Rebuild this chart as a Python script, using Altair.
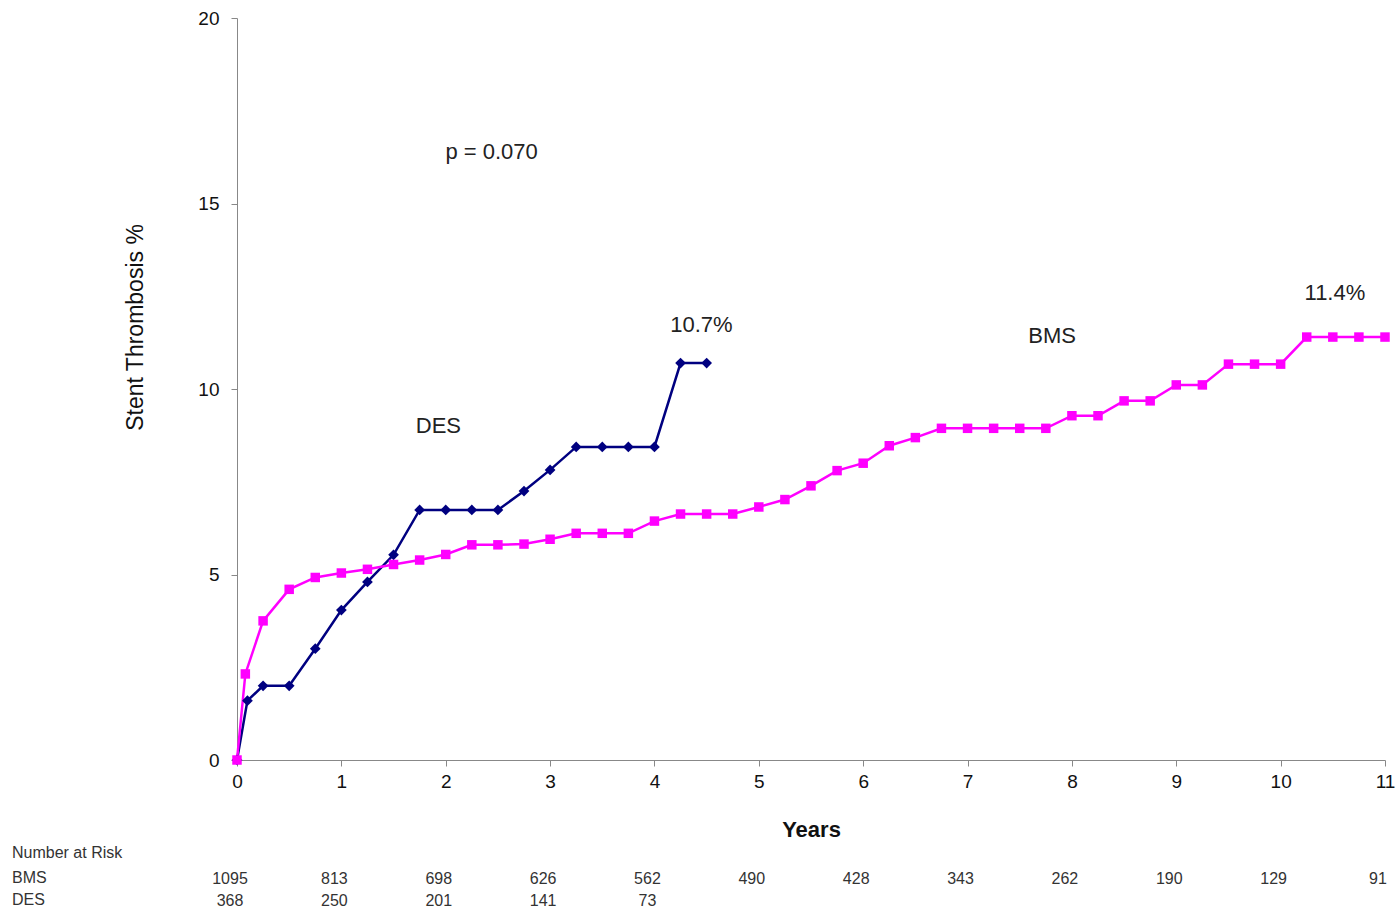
import altair as alt
import pandas as pd

# ---- data ----
des_years = [0, 0.1, 0.25, 0.5, 0.75, 1.0, 1.25, 1.5, 1.75, 2.0, 2.25, 2.5, 2.75, 3.0, 3.25, 3.5, 3.75, 4.0, 4.25, 4.5]
des_values = [0, 1.6, 2.0, 2.0, 3.0, 4.04, 4.8, 5.53, 6.74, 6.74, 6.74, 6.74, 7.25, 7.82, 8.44, 8.44, 8.44, 8.44, 10.7, 10.7]

bms_years = [0, 0.08, 0.25, 0.5, 0.75, 1.0, 1.25, 1.5, 1.75, 2.0, 2.25, 2.5, 2.75, 3.0, 3.25, 3.5, 3.75, 4.0,
             4.25, 4.5, 4.75, 5.0, 5.25, 5.5, 5.75, 6.0, 6.25, 6.5, 6.75, 7.0, 7.25, 7.5, 7.75, 8.0, 8.25, 8.5,
             8.75, 9.0, 9.25, 9.5, 9.75, 10.0, 10.25, 10.5, 10.75, 11.0]
bms_values = [0, 2.32, 3.75, 4.6, 4.92, 5.04, 5.14, 5.27, 5.39, 5.54, 5.8, 5.8, 5.82, 5.95, 6.11, 6.11, 6.11, 6.44,
              6.63, 6.63, 6.63, 6.82, 7.02, 7.39, 7.8, 8.0, 8.47, 8.69, 8.94, 8.94, 8.94, 8.94, 8.94, 9.28, 9.28, 9.68,
              9.68, 10.11, 10.11, 10.67, 10.67, 10.67, 11.4, 11.4, 11.4, 11.4]

risk_years = [0, 1, 2, 3, 4, 5, 6, 7, 8, 9, 10, 11]
risk_bms = ["1095", "813", "698", "626", "562", "490", "428", "343", "262", "190", "129", "91"]
risk_des = ["368", "250", "201", "141", "73", "", "", "", "", "", "", ""]

notes_text = ["p = 0.070", "DES", "10.7%", "BMS", "11.4%"]
notes_x = [2.44, 1.93, 4.45, 7.81, 10.52]
notes_y = [16.4, 9.0, 11.72, 11.43, 12.6]

series_names = ["DES", "BMS"]
series_colors = ["#000080", "#FF00FF"]
series_shapes = ["diamond", "square"]

# ---- tables ----
df = pd.concat([
    pd.DataFrame({"year": des_years, "pct": des_values, "group": "DES"}),
    pd.DataFrame({"year": bms_years, "pct": bms_values, "group": "BMS"}),
])
risk_df = pd.DataFrame({"year": risk_years, "bms": risk_bms, "des": risk_des})
notes_df = pd.DataFrame({"text": notes_text, "x": notes_x, "y": notes_y})
rowlab_df = pd.DataFrame({"label": ["Number at Risk", "BMS", "DES"], "py": [835, 860, 882]})

FONT = "Liberation Sans"

xscale = alt.Scale(domain=[0, 11], nice=False, zero=True)
yscale = alt.Scale(domain=[0, 20], nice=False)
color = alt.Color("group:N", scale=alt.Scale(domain=series_names, range=series_colors), legend=None)
shape = alt.Shape("group:N", scale=alt.Scale(domain=series_names, range=series_shapes), legend=None)
msize = alt.Size("group:N", scale=alt.Scale(domain=series_names, range=[115, 90]), legend=None)

x_enc = alt.X("year:Q", scale=xscale,
              axis=alt.Axis(values=list(range(12)), format="d", labelFlush=False, grid=False,
                            domainColor="#888888", tickColor="#888888",
                            tickSize=6, labelFontSize=19, labelColor="#111111", labelFont=FONT,
                            labelPadding=6, title="Years", titleFontSize=22, titleFontWeight="bold",
                            titleFont=FONT, titleColor="#111111", titlePadding=28))
y_enc = alt.Y("pct:Q", scale=yscale,
              axis=alt.Axis(values=[0, 5, 10, 15, 20], grid=False, domainColor="#888888", tickColor="#888888",
                            tickSize=6, labelFontSize=19, labelColor="#111111", labelFont=FONT,
                            labelPadding=12, title="Stent Thrombosis  %", titleFontSize=23,
                            titleFontWeight="normal", titleFont=FONT, titleColor="#111111",
                            titleX=-102, titleY=309, titleAngle=-90, titleAlign="center",
                            titleBaseline="middle"))

base = alt.Chart(df)
lines = base.mark_line(strokeWidth=2.5).encode(x=x_enc, y=y_enc, color=color, detail="group:N")
points = base.mark_point(filled=True, opacity=1).encode(x="year:Q", y="pct:Q", color=color, shape=shape, size=msize)

notes = alt.Chart(notes_df).mark_text(fontSize=22, font=FONT, color="#222222").encode(
    x=alt.X("x:Q", scale=xscale), y=alt.Y("y:Q", scale=yscale), text="text:N")

risk_b = alt.Chart(risk_df).mark_text(fontSize=16, font=FONT, color="#333333", dx=-7).encode(
    x=alt.X("year:Q", scale=xscale), y=alt.value(861), text="bms:N")
risk_d = alt.Chart(risk_df).mark_text(fontSize=16, font=FONT, color="#333333", dx=-7).encode(
    x=alt.X("year:Q", scale=xscale), y=alt.value(883), text="des:N")
rowlab = alt.Chart(rowlab_df).mark_text(fontSize=16, font=FONT, color="#333333", align="left").encode(
    x=alt.value(-225), y=alt.Y("py:Q", scale=None), text="label:N")

chart = alt.layer(lines, points, notes, risk_b, risk_d, rowlab).properties(
    width=1148, height=742,
    autosize=alt.AutoSizeParams(type="none"),
    padding={"left": 237, "top": 18, "right": 15, "bottom": 151},
    background="white",
).configure_view(stroke=None)

chart.save("out.html", embed_options={"renderer": "svg", "actions": False})
